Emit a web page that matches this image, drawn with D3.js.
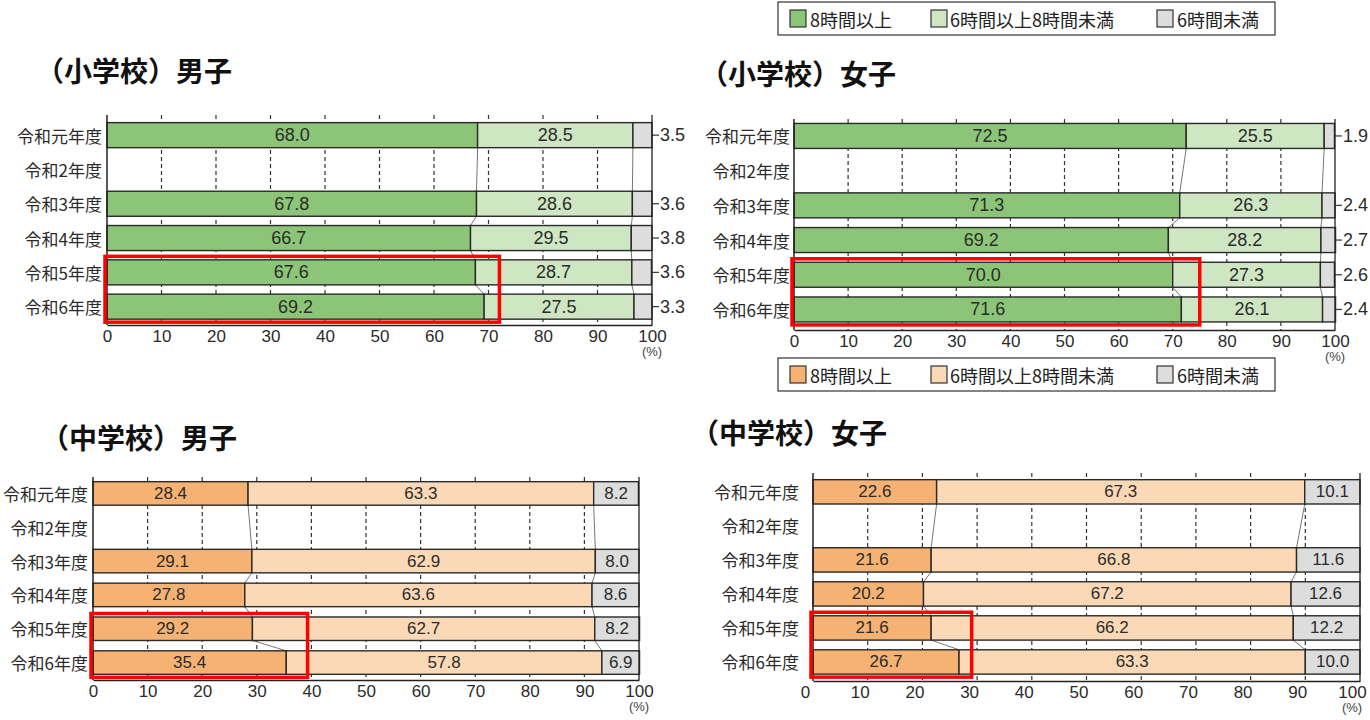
<!DOCTYPE html>
<html><head><meta charset="utf-8">
<script src="https://cdn.jsdelivr.net/npm/d3@7"></script>
<style>body{margin:0;background:#fff;} svg{display:block;}</style>
</head><body><svg id="c" width="1370" height="720"></svg>
<script>
// ---------- data ----------
const years = ["令和元年度","令和2年度","令和3年度","令和4年度","令和5年度","令和6年度"];
const tickValues = [0,10,20,30,40,50,60,70,80,90,100];
const seriesNames = ["8時間以上","6時間以上8時間未満","6時間未満"];
const panelTitles = ["（小学校）男子","（小学校）女子","（中学校）男子","（中学校）女子"];

// 小学校 男子
const esBoysOver8  = [68.0, null, 67.8, 66.7, 67.6, 69.2];
const esBoys6to8   = [28.5, null, 28.6, 29.5, 28.7, 27.5];
const esBoysUnder6 = [3.5,  null, 3.6,  3.8,  3.6,  3.3];
// 小学校 女子
const esGirlsOver8  = [72.5, null, 71.3, 69.2, 70.0, 71.6];
const esGirls6to8   = [25.5, null, 26.3, 28.2, 27.3, 26.1];
const esGirlsUnder6 = [1.9,  null, 2.4,  2.7,  2.6,  2.4];
// 中学校 男子
const jhBoysOver8  = [28.4, null, 29.1, 27.8, 29.2, 35.4];
const jhBoys6to8   = [63.3, null, 62.9, 63.6, 62.7, 57.8];
const jhBoysUnder6 = [8.2,  null, 8.0,  8.6,  8.2,  6.9];
// 中学校 女子
const jhGirlsOver8  = [22.6, null, 21.6, 20.2, 21.6, 26.7];
const jhGirls6to8   = [67.3, null, 66.8, 67.2, 66.2, 63.3];
const jhGirlsUnder6 = [10.1, null, 11.6, 12.6, 12.2, 10.0];

// highlight box right end (axis value) for 令和5–6年度
const highlightTo = [72, 75, 39.3, 29];

const greenColors  = ["#8cc577", "#cee6c2", "#dddddd"];
const orangeColors = ["#f5b273", "#fbd9b7", "#dddddd"];

// ---------- drawing ----------
const svg = d3.select("#c");
const NUM = "'Liberation Sans', Arial, 'Noto Sans CJK JP', sans-serif";
const JP  = "'Noto Sans CJK JP', sans-serif";

const panels = [
  {title: panelTitles[0], data:[esBoysOver8, esBoys6to8, esBoysUnder6], colors: greenColors,
   x0:107, x1:652, r0:118, r1:323.8, pi:0.27, po:0.135, plotTop:115, axisY:325,
   labelEnd:102, titleX:36, titleY:70, outside:true, hl:highlightTo[0], fs:18, tdx:0},
  {title: panelTitles[1], data:[esGirlsOver8, esGirls6to8, esGirlsUnder6], colors: greenColors,
   x0:794, x1:1335, r0:118.6, r1:326.8, pi:0.28, po:0.14, plotTop:119, axisY:330,
   labelEnd:790, titleX:700, titleY:73, outside:true, hl:highlightTo[1], fs:18, tdx:0},
  {title: panelTitles[2], data:[jhBoysOver8, jhBoys6to8, jhBoysUnder6], colors: orangeColors,
   x0:93, x1:639, r0:476.6, r1:679.4, pi:0.305, po:0.15, plotTop:477, axisY:680,
   labelEnd:88, titleX:41, titleY:437, outside:false, hl:highlightTo[2], fs:17, tdx:0},
  {title: panelTitles[3], data:[jhGirlsOver8, jhGirls6to8, jhGirlsUnder6], colors: orangeColors,
   x0:813, x1:1360, r0:474.9, r1:678.9, pi:0.285, po:0.14, plotTop:473, axisY:681,
   labelEnd:799, titleX:691, titleY:432, outside:false, hl:highlightTo[3], fs:17, tdx:-8}
];

panels.forEach(p => {
  const g = svg.append("g");
  const x = d3.scaleLinear().domain([0,100]).range([p.x0, p.x1]);
  const y = d3.scaleBand().domain(years).range([p.r0, p.r1]).paddingInner(p.pi).paddingOuter(p.po);
  const bw = y.bandwidth();

  // dashed grid
  g.append("g").selectAll("line").data(tickValues.filter(t => t > 0 && t < 100)).join("line")
    .attr("x1", d => x(d)).attr("x2", d => x(d))
    .attr("y1", p.plotTop).attr("y2", p.axisY)
    .attr("stroke", "#333").attr("stroke-width", 1.2).attr("stroke-dasharray", "4,3");

  // rows
  const rows = years.map((yr, i) => {
    if (p.data[0][i] == null) return null;
    const vals = p.data.map(s => s[i]);
    let c = 0;
    const segs = vals.map((v, k) => { const s = {k, v, a: c, b: c + v}; c += v; return s; });
    return {yr, i, segs};
  }).filter(r => r);

  // connecting lines
  const conn = [];
  for (let j = 1; j < rows.length; j++) {
    const A = rows[j-1], B = rows[j];
    [0,1].forEach(k => conn.push({xa: A.segs[k].b, ya: y(A.yr) + bw, xb: B.segs[k].b, yb: y(B.yr)}));
  }
  g.append("g").selectAll("line").data(conn).join("line")
    .attr("x1", d => x(d.xa)).attr("y1", d => d.ya)
    .attr("x2", d => x(d.xb)).attr("y2", d => d.yb)
    .attr("stroke", "#777").attr("stroke-width", 1);

  // bars
  const rg = g.append("g").selectAll("g").data(rows).join("g");
  rg.selectAll("rect").data(r => r.segs.map(s => ({...s, yr: r.yr}))).join("rect")
    .attr("x", d => x(d.a)).attr("width", d => x(d.b) - x(d.a))
    .attr("y", d => y(d.yr)).attr("height", bw)
    .attr("fill", d => p.colors[d.k]).attr("stroke", "#2a2a2a").attr("stroke-width", 1.4);

  // inside labels
  rg.selectAll("text.in").data(r => r.segs.filter(s => !(p.outside && s.k === 2)).map(s => ({...s, yr: r.yr}))).join("text")
    .attr("class", "in")
    .attr("x", d => x((d.a + d.b) / 2)).attr("y", d => y(d.yr) + bw / 2)
    .attr("text-anchor", "middle").attr("dominant-baseline", "central")
    .attr("font-family", NUM).attr("font-size", p.fs).attr("fill", "#2b2b2b")
    .text(d => d.v.toFixed(1));

  // outside small-value labels
  if (p.outside) {
    rg.append("line")
      .attr("x1", x(100)).attr("x2", x(100) + 7)
      .attr("y1", r => y(r.yr) + bw / 2).attr("y2", r => y(r.yr) + bw / 2)
      .attr("stroke", "#333").attr("stroke-width", 1.2);
    rg.append("text")
      .attr("x", x(100) + 8).attr("y", r => y(r.yr) + bw / 2)
      .attr("dominant-baseline", "central")
      .attr("font-family", NUM).attr("font-size", p.fs).attr("fill", "#2b2b2b")
      .text(r => r.segs[2].v.toFixed(1));
  }

  // frame lines
  g.append("line").attr("x1", p.x0).attr("x2", p.x0).attr("y1", p.plotTop).attr("y2", p.axisY)
    .attr("stroke", "#222").attr("stroke-width", 1.5);
  g.append("line").attr("x1", p.x1).attr("x2", p.x1).attr("y1", p.plotTop).attr("y2", p.axisY)
    .attr("stroke", "#222").attr("stroke-width", 1.3);

  // bottom axis
  const ax = g.append("g").attr("transform", `translate(0,${p.axisY})`)
    .call(d3.axisBottom(x).tickValues(tickValues).tickSize(0).tickPadding(5).tickFormat(d3.format("d")));
  ax.select(".domain").attr("stroke", "#222").attr("stroke-width", 1.5);
  ax.selectAll("text").attr("font-family", NUM).attr("font-size", 17).attr("fill", "#2b2b2b")
    .attr("dx", p.tdx);
  g.append("text").attr("x", x(100) + p.tdx).attr("y", p.axisY + 31)
    .attr("text-anchor", "middle").attr("font-family", NUM).attr("font-size", 13).attr("fill", "#444")
    .text("(%)");

  // category labels
  g.append("g").selectAll("text").data(years).join("text")
    .attr("x", p.labelEnd).attr("y", d => y(d) + bw / 2)
    .attr("text-anchor", "end").attr("dominant-baseline", "central")
    .attr("font-family", JP).attr("font-size", 17).attr("fill", "#2b2b2b")
    .text(d => d);

  // highlight box
  g.append("rect")
    .attr("x", x(0) - 2).attr("y", y(years[4]) - 3.5)
    .attr("width", x(p.hl) - x(0) + 2)
    .attr("height", y(years[5]) + bw - y(years[4]) + 6.5)
    .attr("fill", "none").attr("stroke", "#ff0000").attr("stroke-width", 3.5);

  // title
  svg.append("text").attr("x", p.titleX).attr("y", p.titleY)
    .attr("dominant-baseline", "central")
    .attr("font-family", JP).attr("font-size", 28).attr("font-weight", 700).attr("fill", "#111")
    .text(p.title);
});

// legends
function legend(yTop, colors) {
  const g = svg.append("g");
  g.append("rect").attr("x", 778).attr("y", yTop).attr("width", 497).attr("height", 33)
    .attr("fill", "#fff").attr("stroke", "#333").attr("stroke-width", 1.2);
  const sx = [790, 931, 1157], tx = [810, 950, 1177];
  g.selectAll("rect.sw").data(seriesNames).join("rect").attr("class", "sw")
    .attr("x", (d, i) => sx[i]).attr("y", yTop + 8).attr("width", 16).attr("height", 17)
    .attr("fill", (d, i) => colors[i]).attr("stroke", "#333").attr("stroke-width", 1.2);
  g.selectAll("text").data(seriesNames).join("text")
    .attr("x", (d, i) => tx[i]).attr("y", yTop + 17)
    .attr("dominant-baseline", "central")
    .attr("font-family", JP).attr("font-size", 18).attr("fill", "#222")
    .text(d => d);
}
legend(2, greenColors);
legend(358, orangeColors);
</script></body></html>
